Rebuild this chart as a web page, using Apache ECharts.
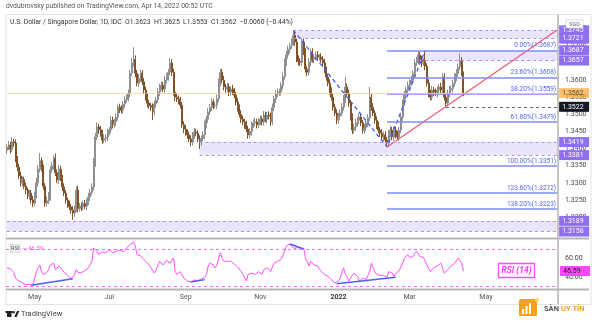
<!DOCTYPE html>
<html><head><meta charset="utf-8">
<script src="https://cdn.jsdelivr.net/npm/echarts@6/dist/echarts.min.js"></script>
<style>html,body{margin:0;padding:0;background:#fff}#c{width:592px;height:324px}</style>
</head><body><div id="c"></div>
<script>
// ---------- data ----------
const startDate = '2021-04-09';
const slotCount = 318;
const firstOpen = 1.3395;
const closes = [
1.3405,1.3410,1.3398,1.3420,1.3416,1.3370,1.3346,1.3320,1.3300,1.3310,
1.3290,1.3279,1.3262,1.3270,1.3250,1.3241,1.3265,1.3300,1.3340,1.3365,
1.3345,1.3290,1.3241,1.3248,1.3260,1.3338,1.3350,1.3372,1.3330,1.3308,
1.3340,1.3315,1.3288,1.3270,1.3250,1.3238,1.3230,1.3220,1.3212,1.3225,
1.3279,1.3225,1.3232,1.3230,1.3240,1.3232,1.3245,1.3259,1.3272,1.3288,
1.3358,1.3434,1.3463,1.3455,1.3445,1.3425,1.3430,1.3434,1.3448,1.3454,
1.3483,1.3470,1.3478,1.3492,1.3521,1.3515,1.3512,1.3530,1.3542,1.3548,
1.3560,1.3620,1.3650,1.3660,1.3620,1.3591,1.3605,1.3620,1.3595,1.3571,
1.3550,1.3533,1.3525,1.3521,1.3507,1.3530,1.3542,1.3565,1.3580,1.3585,
1.3574,1.3600,1.3610,1.3623,1.3650,1.3623,1.3565,1.3550,1.3545,1.3540,
1.3527,1.3470,1.3457,1.3448,1.3440,1.3428,1.3419,1.3440,1.3448,1.3445,
1.3428,1.3419,1.3430,1.3440,1.3470,1.3486,1.3507,1.3520,1.3536,1.3527,
1.3527,1.3545,1.3594,1.3623,1.3600,1.3580,1.3574,1.3580,1.3565,1.3574,
1.3568,1.3556,1.3536,1.3520,1.3500,1.3486,1.3478,1.3470,1.3457,1.3440,
1.3450,1.3469,1.3475,1.3478,1.3469,1.3480,1.3486,1.3478,1.3498,1.3486,
1.3498,1.3495,1.3478,1.3520,1.3545,1.3560,1.3565,1.3565,1.3585,1.3610,
1.3652,1.3673,1.3690,1.3700,1.3711,1.3731,1.3711,1.3661,1.3655,1.3652,
1.3711,1.3682,1.3632,1.3623,1.3652,1.3682,1.3661,1.3667,1.3673,1.3667,
1.3667,1.3660,1.3650,1.3630,1.3609,1.3591,1.3570,1.3550,1.3521,1.3504,
1.3483,1.3495,1.3504,1.3521,1.3545,1.3580,1.3560,1.3533,1.3492,1.3454,
1.3463,1.3475,1.3483,1.3492,1.3475,1.3454,1.3460,1.3475,1.3490,1.3550,
1.3521,1.3504,1.3483,1.3469,1.3454,1.3445,1.3434,1.3440,1.3425,1.3416,
1.3445,1.3454,1.3434,1.3454,1.3440,1.3434,1.3454,1.3492,1.3533,1.3556,
1.3571,1.3585,1.3591,1.3600,1.3620,1.3650,1.3658,1.3673,1.3660,1.3650,
1.3655,1.3640,1.3591,1.3562,1.3550,1.3571,1.3565,1.3562,1.3571,1.3580,
1.3571,1.3609,1.3550,1.3533,1.3562,1.3571,1.3575,1.3590,1.3609,1.3620,
1.3638,1.3658,1.3623,1.3562];
// wick lengths in pips above max(open,close) / below min(open,close)
const hiWick = [
8,12,10,14,9,11,8,10,12,9,8,11,7,10,9,12,10,14,12,22,
10,8,9,11,13,10,12,8,14,9,12,10,8,11,9,7,10,9,12,8,
10,12,9,11,8,10,9,12,10,11,15,12,14,9,11,10,12,8,10,9,
12,10,9,11,8,10,12,9,11,10,12,9,14,36,12,10,13,10,9,11,
10,12,9,8,11,10,9,12,10,11,9,12,10,9,14,11,10,9,12,10,
11,9,10,12,8,10,11,9,12,10,9,11,8,10,12,9,11,10,12,9,
10,12,11,9,10,12,9,11,10,8,12,9,10,11,9,12,10,9,11,10,
9,11,10,12,9,10,11,8,12,10,9,11,10,12,9,10,11,10,9,12,
10,12,11,9,10,15,12,10,11,9,12,10,11,9,12,10,11,9,10,12,
9,11,10,12,9,10,11,9,12,10,11,9,10,12,11,29,10,12,9,11,
10,12,9,11,10,9,12,10,11,30,10,12,9,11,10,9,12,10,11,9,
10,12,9,11,10,12,9,11,10,12,9,11,10,12,9,11,10,12,9,11,
10,32,9,11,10,12,9,10,11,9,12,11,11,9,10,12,9,11,10,12,
10,20,9,2];
const loWick = [
10,9,12,8,11,10,12,9,11,10,8,12,9,11,10,12,9,10,11,9,
12,10,11,9,10,12,8,11,10,9,11,10,12,9,10,11,9,10,20,12,
10,11,9,12,10,9,11,10,12,9,10,11,9,12,10,11,9,10,12,9,
10,11,9,12,10,11,9,10,12,9,10,11,9,10,12,9,11,10,9,11,
10,12,9,11,24,10,11,9,12,10,9,11,10,12,9,11,10,12,9,11,
10,9,12,10,11,9,12,10,11,9,10,20,11,9,12,10,11,9,10,12,
9,11,10,12,9,10,11,9,12,10,11,9,10,12,9,11,10,12,9,11,
10,12,9,11,10,9,12,10,11,9,12,10,11,9,10,12,9,11,10,12,
9,11,10,12,9,10,11,9,12,10,11,9,10,12,9,11,10,12,9,11,
10,9,12,10,11,9,12,10,11,9,12,10,11,9,10,12,9,11,10,12,
9,11,10,12,9,10,11,9,12,10,11,9,10,12,9,11,10,12,9,11,
10,12,9,11,10,9,12,10,11,9,12,10,11,9,10,12,9,11,10,12,
9,11,10,12,9,10,11,9,12,10,11,9,10,11,9,12,10,11,9,12,
10,9,11,9];
const rsi = [
50,50.5,49,49.5,45,39,37,36,35,34,
33.5,32,31,32.5,31.5,31,39,46,50,53,
46,43,41,45,48,53,52,55,48,50,
52,50,48,45,43,42,41,38.5,40,43,
48,45,44,45,46,47,48,50,52,57,
71,69,67.5,64,66,67,65,66,67,69,
68,66,67,67.5,68,69,68,67,69,71,
73,74.5,76,77.4,73,64,62,63,60.5,59,
57,55,53,50,48,44.5,48,53,57,55,
53,55,58,56,55,58,60.5,46,43,44,
46,42,39,38,36,35.5,35,36,37,36,
36.5,37.5,38,38.5,40,43,52,55,57,53,
50,53,60,66,60,57,55,57,59,57,
55,54,53,51,50,46,43,39,36,43,
44,44.5,44,43,45,46,44,43,48,47,
50,48,46,51,55,56,57,57,59,63,
67.5,73,74,75.3,73,71,70,73,71,69,
70.5,71,60.5,57,52,57,55,53,54,52,
49,46,45,43,42,41,39,37.5,36,34,
33,36,39,45,50,43,40,36,39,42,
44.5,43,41,36,38,39,38,37.5,42,46,
55,50,46,43,41,42,43,42,41,40,
46,45,44.5,41,44,46,47,48,55,60.5,
62,64,61,59,62,65,67.5,69,62,60.5,
61,60,53,49,46,48,50,51,52,53,
55,57,44.5,46,48,50,52,53,55,57,
60.5,59,55,46.59];
const monthLabels = {4:'May',6:'Jul',8:'Sep',10:'Nov',0:'2022',2:'Mar'};
const zones = [[1.3721,1.3745,165],[1.3657,1.3687,241],[1.3381,1.3419,111],[1.3158,1.3189,0]];
const zoneDashed = [[1.3745,165],[1.3721,165],[1.3657,241],[1.3419,111],[1.3381,111],[1.3189,0],[1.3158,0]];
const fibLevels = [['0.00%',1.3687],['23.60%',1.3608],['38.20%',1.3559],['61.80%',1.3479],['100.00%',1.3351],['123.60%',1.3272],['138.20%',1.3223]];
const fibStart = 219;
const axisBoxes = [1.3745,1.3721,1.3687,1.3657,1.3419,1.3381,1.3189,1.3158];
const lastPrice = 1.3562;
const swingLow = 1.3522, swingLowStart = 253;
const fibPath = [[165,1.3746],[219,1.3405],[241,1.3687]];
const trendLine = [[219,1.3405],[317,1.3746]];
const rsiDivs = [[[14,31.5],[38,38.5]],[[106,35],[114,37.5]],[[163,75.3],[171,70]],[[190,33],[224,40]]];
const rsiLast = 46.59;
const headerTop = 'dvdubrovsky published on TradingView.com, Apr 14, 2022 00:52 UTC';
const headerSym = 'U.S. Dollar / Singapore Dollar, 1D, IDC  O1.3623  H1.3625  L1.3553  C1.3562  −0.0060 (−0.44%)';

// ---------- build ----------
const dates = [];
{ let d = new Date(startDate + 'T00:00:00Z');
  while (dates.length < slotCount) { const wd = d.getUTCDay(); if (wd !== 0 && wd !== 6) dates.push(d.toISOString().slice(0,10)); d = new Date(d.getTime() + 86400000); } }
const candles = closes.map((c,i) => { const o = i === 0 ? firstOpen : closes[i-1];
  return [o, c, +(Math.min(o,c) - loWick[i]/10000).toFixed(4), +(Math.max(o,c) + hiWick[i]/10000).toFixed(4)]; });
const FONT = 'Roboto, "Noto Sans", sans-serif';
const last = slotCount - 1;
const PURPLE = '#8d6ff0';
const boxLabel = (bg, fg) => ({show:true, position:'end', distance:2, fontSize:7, fontFamily:FONT, color:fg, backgroundColor:bg, padding:[2,3,1,3], width:24, align:'left'});
const mlData = [];
zoneDashed.forEach(([v,s]) => mlData.push([{coord:[s,v], lineStyle:{color:'#a892f5', type:[3,3], width:1}, label:{show:false}}, {coord:[last,v]}]));
fibLevels.forEach(([n,v]) => mlData.push([{coord:[fibStart,v], lineStyle:{color:'#7d8ff5', type:'solid', width:1.5},
  label:{show:true, position:'insideEndTop', distance:1, formatter:n+'('+v.toFixed(4)+')', color:'#5468e8', fontSize:6.5, fontFamily:FONT}}, {coord:[last,v]}]));
mlData.push([{coord:[0,lastPrice], lineStyle:{color:'#ffc984', width:1, type:'solid', opacity:0.7}, label:Object.assign(boxLabel('#f6a733','#1a1a1a'),{formatter:lastPrice.toFixed(4)})}, {coord:[last,lastPrice]}]);
mlData.push([{coord:[swingLowStart,swingLow], lineStyle:{color:'#666', width:1, type:[3,3]}, label:Object.assign(boxLabel('#131722','#fff'),{formatter:swingLow.toFixed(4)})}, {coord:[last,swingLow]}]);
axisBoxes.forEach(v => mlData.push([{coord:[0,v], lineStyle:{color:'rgba(0,0,0,0)', width:1}, label:Object.assign(boxLabel(PURPLE,'#fff'),{formatter:v.toFixed(4)})}, {coord:[last,v]}]));

const series = [
  {type:'candlestick', xAxisIndex:0, yAxisIndex:0, data:candles, barWidth:1.5, silent:true,
   itemStyle:{color:'#a9a9a9', color0:'#a5692f', borderColor:'#8f8f8f', borderColor0:'#7f5228', borderWidth:1},
   markArea:{silent:true, itemStyle:{color:'rgba(160,135,245,0.22)'}, data: zones.map(([lo,hi,s]) => [{coord:[s,hi]},{coord:[last,lo]}])},
   markLine:{silent:true, symbol:'none', animation:false, data:mlData}},
  {type:'line', xAxisIndex:0, yAxisIndex:0, data:fibPath, symbol:'none', silent:true, lineStyle:{color:'#3d5afe', width:1.3, type:[4,3]}},
  {type:'line', xAxisIndex:0, yAxisIndex:0, data:trendLine, symbol:'none', silent:true, lineStyle:{color:'#f0596a', width:1.2}},
  {type:'line', xAxisIndex:1, yAxisIndex:1, data:rsi, symbol:'none', silent:true, lineStyle:{color:'#ff4dff', width:1},
   markLine:{silent:true, symbol:'none', animation:false, data:[
     {yAxis:70, lineStyle:{color:'#ff6bff', type:[3,3], width:1}, label:{show:false}},
     {yAxis:30, lineStyle:{color:'#ff6bff', type:[3,3], width:1}, label:{show:false}},
     {yAxis:rsiLast, lineStyle:{color:'rgba(0,0,0,0)'}, label:Object.assign(boxLabel('#ff45ff','#222'),{formatter:rsiLast.toFixed(2)})}]}}
];
rsiDivs.forEach(d => series.push({type:'line', xAxisIndex:1, yAxisIndex:1, data:d, symbol:'none', silent:true, lineStyle:{color:'#4a62f2', width:1.5}}));

const priceFmt = v => (Math.round(v*10000) % 50 === 0) ? v.toFixed(4) : '';
const rsiFmt = v => (Math.abs(v-40) < 1e-6 || Math.abs(v-60) < 1e-6) ? v.toFixed(2) : '';
const isLabelIdx = (i) => { if (i === 0) return false; const m = dates[i].slice(5,7); if (m === dates[i-1].slice(5,7)) return false; return monthLabels.hasOwnProperty(+m - 1); };

const txt = (text, x, y, o) => ({type:'text', x, y, silent:true, z:80, style:Object.assign({text, fill:'#333', fontSize:7, fontFamily:FONT, textVerticalAlign:'middle'}, o||{})});
const graphic = [
  {type:'rect', silent:true, z:1, shape:{x:6, y:14.5, width:585, height:290}, style:{fill:'none', stroke:'#e3e3e3', lineWidth:1}},
  {type:'line', silent:true, z:40, shape:{x1:558, y1:15, x2:558, y2:304}, style:{stroke:'#8c8c8c', lineWidth:1}},
  {type:'line', silent:true, z:40, shape:{x1:6, y1:238.5, x2:589, y2:238.5}, style:{stroke:'#b5b5b5', lineWidth:2}},
  {type:'line', silent:true, z:40, shape:{x1:6, y1:289.5, x2:589, y2:289.5}, style:{stroke:'#b5b5b5', lineWidth:2}},
  txt(headerTop, 6, 6, {fill:'#555', fontSize:6.8}),
  txt(headerSym, 10, 22, {fill:'#333', fontSize:6.8}),
  {type:'rect', silent:true, z:60, shape:{x:566, y:20, width:17, height:8}, style:{fill:'#fff', stroke:'#c8c8c8', lineWidth:0.6}},
  txt('SGD', 574.5, 24.2, {fill:'#666', fontSize:5.5, textAlign:'center'}),
  {type:'rect', silent:true, z:60, shape:{x:10.5, y:244.5, width:9.5, height:8}, style:{fill:'#f0f0f0', stroke:'#c9c9c9', lineWidth:0.6}},
  txt('RSI', 15.2, 248.7, {fill:'#555', fontSize:5.5, textAlign:'center'}),
  txt('— 46.59', 22, 248.7, {fill:'#ff4dff', fontSize:6}),
  {type:'rect', silent:true, z:60, shape:{x:498.5, y:263.5, width:36, height:14}, style:{fill:'#fff', stroke:'#ff4dff', lineWidth:1.3}},
  txt('RSI (14)', 516.5, 270.7, {fill:'#ff33ff', fontSize:8.5, fontWeight:'bold', fontStyle:'italic', textAlign:'center'}),
  {type:'rect', silent:true, z:60, shape:{x:7, y:311, width:4.5, height:6}, style:{fill:'#222'}},
  {type:'rect', silent:true, z:60, shape:{x:5.5, y:311, width:7, height:2}, style:{fill:'#222'}},
  {type:'circle', silent:true, z:60, shape:{cx:13.6, cy:312.3, r:1.3}, style:{fill:'#222'}},
  {type:'polygon', silent:true, z:60, shape:{points:[[14.3,317],[17,311],[19.3,311],[16.6,317]]}, style:{fill:'#222'}},
  txt('TradingView', 21, 314.5, {fill:'#444', fontSize:7.5}),
  {type:'rect', silent:true, z:60, shape:{x:519, y:299, width:18, height:17, r:1.5}, style:{fill:'#f4a21c'}},
  {type:'rect', silent:true, z:61, shape:{x:522, y:309, width:2, height:5}, style:{fill:'#fff'}},
  {type:'rect', silent:true, z:61, shape:{x:525.5, y:306, width:2, height:8}, style:{fill:'#fff'}},
  {type:'rect', silent:true, z:61, shape:{x:529, y:303, width:2, height:11}, style:{fill:'#fff'}},
  {type:'circle', silent:true, z:61, shape:{cx:537, cy:300, r:2}, style:{fill:'#ffd37a'}},
  txt('SÀN', 544, 309.5, {fill:'#555', fontSize:7.5, fontWeight:'bold'}),
  txt('UY TÍN', 561, 309.5, {fill:'#f39c12', fontSize:7.5, fontWeight:'bold'})
];

const chart = echarts.init(document.getElementById('c'), null, {renderer:'canvas'});
chart.setOption({
  animation:false, backgroundColor:'#fff',
  textStyle:{fontFamily:FONT},
  grid:[{left:6, right:34, top:28, height:209}, {left:6, right:34, top:240, height:50}],
  xAxis:[
    {type:'category', gridIndex:0, data:dates, boundaryGap:true, axisLine:{show:false}, axisTick:{show:false}, axisLabel:{show:false}, splitLine:{show:false}},
    {type:'category', gridIndex:1, data:dates, boundaryGap:true, axisLine:{show:false}, axisTick:{show:false}, splitLine:{show:false},
     axisLabel:{show:true, interval:(i) => isLabelIdx(i), margin:4, fontSize:7, color:'#555', fontFamily:FONT,
       formatter:(v) => { const m = +v.slice(5,7) - 1; const t = monthLabels[m]; return m === 0 ? '{b|' + t + '}' : t; },
       rich:{b:{fontWeight:'bold', fontSize:7, color:'#333', fontFamily:FONT}}}}
  ],
  yAxis:[
    {type:'value', gridIndex:0, position:'right', min:1.3142, max:1.3752, interval:0.0001,
     axisLine:{show:false}, axisTick:{show:false}, splitLine:{show:false},
     axisLabel:{fontSize:7, color:'#4a4a4a', margin:7, fontFamily:FONT, formatter:priceFmt}},
    {type:'value', gridIndex:1, position:'right', min:26.5, max:79.5, interval:0.5,
     axisLine:{show:false}, axisTick:{show:false}, splitLine:{show:false},
     axisLabel:{fontSize:7, color:'#4a4a4a', margin:7, fontFamily:FONT, formatter:rsiFmt}}
  ],
  series, graphic
});
</script></body></html>
